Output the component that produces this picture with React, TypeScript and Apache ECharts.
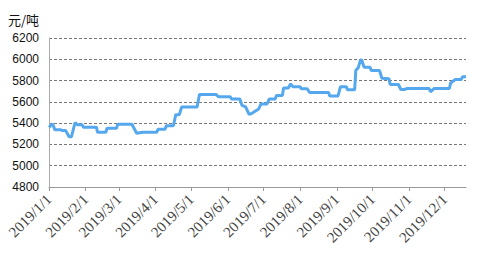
import React, { useEffect, useRef } from "react";
import * as echarts from "echarts";

const dates: string[] = [
  "2019-01-01", "2019-01-04", "2019-01-06", "2019-01-11", "2019-01-12", "2019-01-15",
  "2019-01-18", "2019-01-20", "2019-01-23", "2019-01-25", "2019-01-29", "2019-01-30",
  "2019-02-10", "2019-02-11", "2019-02-18", "2019-02-19", "2019-02-27", "2019-02-28",
  "2019-03-12", "2019-03-16", "2019-03-21", "2019-04-02", "2019-04-03", "2019-04-09",
  "2019-04-10", "2019-04-16", "2019-04-18", "2019-04-21", "2019-04-23", "2019-05-06",
  "2019-05-08", "2019-05-22", "2019-05-24", "2019-06-03", "2019-06-04", "2019-06-11",
  "2019-06-13", "2019-06-16", "2019-06-19", "2019-06-22", "2019-06-27", "2019-06-29",
  "2019-07-04", "2019-07-06", "2019-07-11", "2019-07-12", "2019-07-17", "2019-07-18",
  "2019-07-22", "2019-07-24", "2019-07-26", "2019-08-01", "2019-08-02", "2019-08-07",
  "2019-08-09", "2019-08-25", "2019-08-26", "2019-09-02", "2019-09-04", "2019-09-09",
  "2019-09-10", "2019-09-16", "2019-09-17", "2019-09-19", "2019-09-21", "2019-09-22",
  "2019-09-24", "2019-09-29", "2019-09-30", "2019-10-07", "2019-10-09", "2019-10-15",
  "2019-10-16", "2019-10-23", "2019-10-25", "2019-10-28", "2019-10-30", "2019-11-18",
  "2019-11-19", "2019-11-22", "2019-12-05", "2019-12-06", "2019-12-10", "2019-12-15",
  "2019-12-16", "2019-12-19",
];

const prices: number[] = [
  5360, 5394, 5337, 5337, 5330, 5330,
  5273, 5273, 5406, 5384, 5384, 5362,
  5362, 5314, 5314, 5352, 5352, 5390,
  5390, 5305, 5314, 5314, 5343, 5343,
  5375, 5375, 5480, 5480, 5552, 5552,
  5670, 5670, 5648, 5648, 5628, 5628,
  5566, 5553, 5481, 5497, 5534, 5581,
  5581, 5628, 5628, 5660, 5660, 5731,
  5731, 5769, 5741, 5741, 5722, 5722,
  5688, 5688, 5656, 5656, 5741, 5741,
  5713, 5713, 5897, 5919, 5994, 5994,
  5925, 5925, 5894, 5894, 5822, 5816,
  5763, 5763, 5716, 5716, 5725, 5725,
  5694, 5725, 5725, 5778, 5810, 5810,
  5835, 5835,
];

const yMin = 4800;
const yMax = 6200;
const yStep = 200;
const unitLabel = "元/吨";
const xStart = "2019-01-01";
const xEnd = "2019-12-19";

export default function App() {
  const ref = useRef<HTMLDivElement>(null);
  useEffect(() => {
    if (!ref.current) return;
    const chart = echarts.init(ref.current, undefined, { renderer: "svg" });
    const DAY = 24 * 3600 * 1000;
    chart.setOption({
      animation: false,
      backgroundColor: "#ffffff",
      grid: { left: 49, right: 25, top: 38, bottom: 78, containLabel: false },
      graphic: [
        {
          type: "text",
          left: 8,
          top: 13,
          style: {
            text: unitLabel,
            font: '13px "Noto Sans CJK SC", sans-serif',
            fill: "#111",
          },
        },
      ],
      xAxis: {
        type: "time",
        min: xStart,
        max: xEnd,
        splitNumber: 12,
        minInterval: 28 * DAY,
        maxInterval: 31 * DAY,
        axisLine: { show: true, lineStyle: { color: "#999", width: 1 } },
        axisTick: { show: true, length: 4, lineStyle: { color: "#999" } },
        splitLine: { show: false },
        axisLabel: {
          rotate: 45,
          margin: 10,
          color: "#444",
          fontFamily: '"Liberation Serif", serif',
          fontSize: 15,
          hideOverlap: false,
          formatter: (v: number) => {
            const d = new Date(v);
            return `${d.getFullYear()}/${d.getMonth() + 1}/${d.getDate()}`;
          },
        },
      },
      yAxis: {
        type: "value",
        min: yMin,
        max: yMax,
        interval: yStep,
        axisLine: { show: true, lineStyle: { color: "#aaa", width: 1 } },
        axisTick: { show: false },
        splitLine: { show: true, lineStyle: { color: "#777", type: [3, 2], width: 1 } },
        axisLabel: {
          margin: 10,
          color: "#111",
          fontFamily: '"Liberation Sans", Arial, sans-serif',
          fontSize: 12,
          formatter: (v: number) => String(v),
        },
      },
      series: [
        {
          type: "line",
          data: dates.map((d, i) => [d, prices[i]]),
          showSymbol: false,
          symbol: "none",
          lineStyle: { color: "#55a8ee", width: 3 },
          z: 3,
        },
      ],
    });
    return () => chart.dispose();
  }, []);
  return (
    <div
      ref={ref}
      style={{ position: "fixed", left: 0, top: 0, width: 491, height: 265 }}
    />
  );
}
